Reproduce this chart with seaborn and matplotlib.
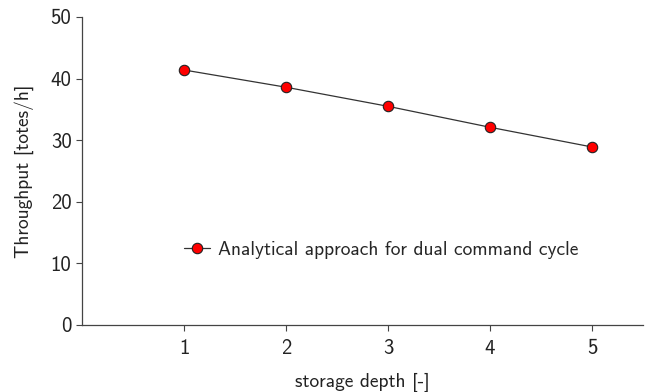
import matplotlib
matplotlib.use("Agg")
import matplotlib.pyplot as plt
import seaborn as sns
import pandas as pd

storage_depth = [1, 2, 3, 4, 5]
throughput = [41.4, 38.6, 35.5, 32.1, 28.9]
series_label = "Analytical approach for dual command cycle"

sns.set_theme(style="ticks")
plt.rcParams['font.family'] = ['cmss10', 'DejaVu Sans']
plt.rcParams['axes.unicode_minus'] = False
plt.rcParams['mathtext.fontset'] = 'cm'

df = pd.DataFrame({"depth": storage_depth, "tp": throughput})

fig = plt.figure(figsize=(6.46, 3.92), dpi=100)
ax = fig.add_axes([82/646, 1-325/392, (643-82)/646, (325-17)/392])

sns.lineplot(data=df, x="depth", y="tp", ax=ax, color="#333333", linewidth=0.9,
             marker="o", markersize=7.5, markerfacecolor="red", markeredgecolor="#222222",
             markeredgewidth=0.8, label=series_label)

ax.set_xlim(0, 5.5)
ax.set_ylim(0, 50)
ax.set_xticks([1, 2, 3, 4, 5])
ax.set_yticks([0, 10, 20, 30, 40, 50])
ax.tick_params(axis='both', labelsize=15, direction='out', length=4, width=0.8,
               color="#444444", labelcolor="#222222")
ax.tick_params(axis='x', pad=6)
for s in ['top', 'right']:
    ax.spines[s].set_visible(False)
for s in ['left', 'bottom']:
    ax.spines[s].set_color("#444444")
    ax.spines[s].set_linewidth(0.9)

ax.set_xlabel("storage depth [-]", fontsize=14, color="#222222", va="center")
ax.xaxis.set_label_coords(0.499, -0.185)
ax.set_ylabel("Throughput [totes/h]", fontsize=14, labelpad=12, color="#222222")

leg = ax.legend(loc="center left", bbox_to_anchor=(0.182, 0.245), frameon=False,
                fontsize=14, borderpad=0, borderaxespad=0, handlelength=1.35,
                handletextpad=0.4)

fig.savefig("out.png", dpi=100)
